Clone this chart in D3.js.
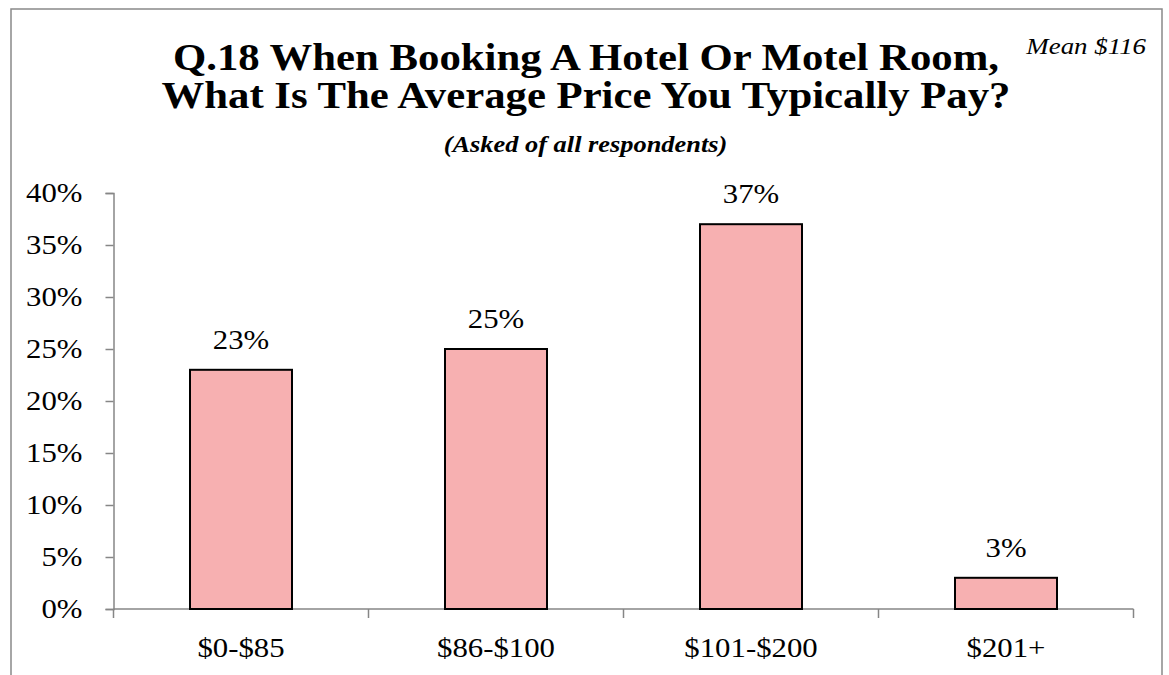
<!DOCTYPE html>
<html>
<head>
<meta charset="utf-8">
<script src="https://cdn.jsdelivr.net/npm/d3@7"></script>
<style>
  body { margin: 0; background: #fff; }
  svg { display: block; font-family: "Liberation Serif", "Times New Roman", serif; }
</style>
</head>
<body>
<script>
const categories = ['$0-$85', '$86-$100', '$101-$200', '$201+'];
const values = [23, 25, 37, 3];
const yTicks = [0, 5, 10, 15, 20, 25, 30, 35, 40];
const titleLines = ['Q.18 When Booking A Hotel Or Motel Room,', 'What Is The Average Price You Typically Pay?'];
const subtitle = '(Asked of all respondents)';
const note = 'Mean $116';

// the source picture is a little wider than tall, so text gets stretched sideways
const SX = 1.14;
const place = (x, y) => `translate(${x},${y}) scale(${SX},1)`;

(function draw() {
  const width = 1169;
  const height = 675;
  const plot = { left: 113.5, right: 1133.5, top: 193, bottom: 609 };

  const svg = d3.select('body')
    .append('svg')
    .attr('width', width)
    .attr('height', height);

  // outer chart border (bottom runs off the picture)
  svg.append('rect')
    .attr('x', 11).attr('y', 9)
    .attr('width', 1151).attr('height', 700)
    .attr('fill', 'none')
    .attr('stroke', '#898989')
    .attr('stroke-width', 1.5);

  const x = d3.scaleBand()
    .domain(categories)
    .range([plot.left, plot.right])
    .paddingInner(0.6)
    .paddingOuter(0.3);

  const xEdges = d3.scaleLinear()
    .domain([0, categories.length])
    .range([plot.left, plot.right]);

  const y = d3.scaleLinear()
    .domain([0, 40])
    .range([plot.bottom, plot.top]);

  // title
  svg.append('g')
    .selectAll('text')
    .data(titleLines)
    .enter()
    .append('text')
    .attr('transform', (d, i) => place(586, 69.5 + i * 38.5))
    .attr('text-anchor', 'middle')
    .attr('font-weight', 'bold')
    .attr('font-size', 37.5)
    .text(d => d);

  svg.append('text')
    .attr('transform', `translate(585.5,151.5) scale(1.1,1)`)
    .attr('text-anchor', 'middle')
    .attr('font-weight', 'bold')
    .attr('font-style', 'italic')
    .attr('font-size', 24)
    .text(subtitle);

  svg.append('text')
    .attr('transform', `translate(1146,54) scale(1.12,1)`)
    .attr('text-anchor', 'end')
    .attr('font-style', 'italic')
    .attr('font-size', 24)
    .text(note);

  // y axis
  const yAxis = svg.append('g')
    .attr('transform', `translate(${plot.left},0)`)
    .call(d3.axisLeft(y).tickValues(yTicks).tickSize(8).tickPadding(21)
      .tickFormat(d => d + '%'));
  yAxis.select('.domain').attr('stroke', '#868686').attr('stroke-width', 1.5);
  yAxis.selectAll('line').attr('stroke', '#868686').attr('stroke-width', 1.5);
  yAxis.selectAll('text')
    .attr('x', 0)
    .attr('transform', place(-31, 0))
    .attr('font-family', '"Liberation Serif", serif')
    .attr('font-size', 27)
    .attr('fill', '#000');

  // x axis line and category edge ticks
  const xAxis = svg.append('g').attr('class', 'x-axis');
  xAxis.append('line')
    .attr('x1', plot.left).attr('x2', plot.right)
    .attr('y1', plot.bottom).attr('y2', plot.bottom)
    .attr('stroke', '#868686').attr('stroke-width', 1.5);
  xAxis.selectAll('line.edge')
    .data(d3.range(categories.length + 1))
    .enter()
    .append('line')
    .attr('class', 'edge')
    .attr('x1', d => xEdges(d)).attr('x2', d => xEdges(d))
    .attr('y1', plot.bottom).attr('y2', plot.bottom + 9)
    .attr('stroke', '#868686').attr('stroke-width', 1.5);

  // bars
  svg.append('g')
    .selectAll('rect')
    .data(values)
    .enter()
    .append('rect')
    .attr('x', (d, i) => x(categories[i]))
    .attr('y', d => y(d))
    .attr('width', x.bandwidth())
    .attr('height', d => y(0) - y(d))
    .attr('fill', '#f7b0b1')
    .attr('stroke', '#000')
    .attr('stroke-width', 2);

  // data labels
  svg.append('g')
    .selectAll('text')
    .data(values)
    .enter()
    .append('text')
    .attr('transform', (d, i) => place(x(categories[i]) + x.bandwidth() / 2, y(d) - 21))
    .attr('text-anchor', 'middle')
    .attr('font-size', 27)
    .text(d => d + '%');

  // category labels
  svg.append('g')
    .selectAll('text')
    .data(categories)
    .enter()
    .append('text')
    .attr('transform', d => place(x(d) + x.bandwidth() / 2, 657))
    .attr('text-anchor', 'middle')
    .attr('font-size', 27)
    .text(d => d);
}());
</script>
</body>
</html>
